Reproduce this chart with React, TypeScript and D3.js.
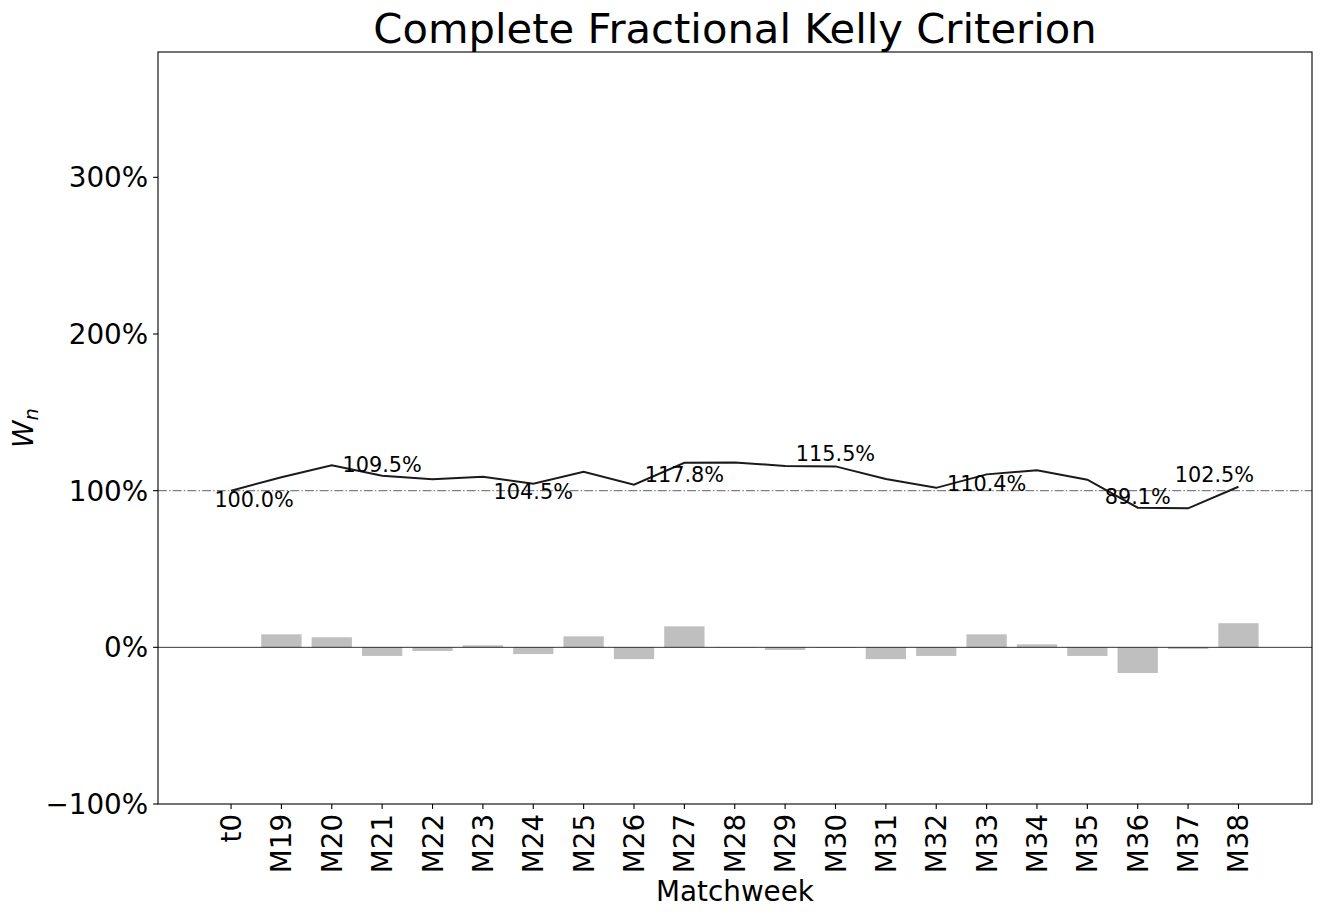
import React from "react";
import * as d3 from "d3";

const weeks = [
  "t0", "M19", "M20", "M21", "M22", "M23", "M24", "M25", "M26", "M27", "M28",
  "M29", "M30", "M31", "M32", "M33", "M34", "M35", "M36", "M37", "M38",
];

// wealth W_n in percent of starting bankroll
const wealth = [
  100.0, 108.6, 116.2, 109.5, 107.3, 108.9, 104.5, 112.0, 103.8, 117.8, 118.0,
  115.8, 115.5, 107.4, 101.8, 110.4, 113.0, 107.0, 89.1, 88.7, 102.5,
];

// weekly return in percent
const weeklyReturn = [
  0, 8.3, 6.4, -5.5, -2.3, 1.3, -4.3, 7.0, -7.5, 13.4, 0.2,
  -1.7, -0.3, -7.5, -5.5, 8.3, 1.9, -5.5, -16.4, -1.1, 15.4,
];

const yTicks = [-100, 0, 100, 200, 300];

// which points get a value label
const labelIdx = [0, 3, 6, 9, 12, 15, 18, 20];
// pixel nudges for the labels [dx, dy]
const labelNudge: [number, number][] = [
  [23, 16], [0, -4], [0, 15.7], [0, 19.5], [0, -5.4], [0, 16.3], [0, -3.6], [-24, -4.5],
];

const W = 1321;
const H = 917;
const margin = { top: 52, right: 9, bottom: 113, left: 158 };
const font = "DejaVu Sans, sans-serif";

const fmtTick = (d: number) => `${d < 0 ? "\u2212" : ""}${Math.abs(d)}%`;

export default function App() {
  const x = d3
    .scaleLinear()
    .domain([-1.45, weeks.length - 1 + 1.46])
    .range([margin.left, W - margin.right]);
  const y = d3
    .scaleLinear()
    .domain([-100, 380])
    .range([H - margin.bottom, margin.top]);
  const step = x(1) - x(0);
  const barW = step * 0.8;

  const line = d3
    .line<number>()
    .x((_, i) => x(i))
    .y((d) => y(d));

  const x0 = margin.left;
  const x1 = W - margin.right;
  const y0 = margin.top;
  const y1 = H - margin.bottom;

  return (
    <svg
      width={W}
      height={H}
      style={{ position: "absolute", left: 0, top: 0, background: "#fff" }}
      fontFamily={font}
    >
      <rect x={0} y={0} width={W} height={H} fill="#fff" />
      {/* bars */}
      {weeklyReturn.map((r, i) => (
        <rect
          key={weeks[i]}
          x={x(i) - barW / 2}
          y={Math.min(y(r), y(0))}
          width={barW}
          height={Math.abs(y(r) - y(0))}
          fill="#bfbfbf"
        />
      ))}
      <line x1={x0} x2={x1} y1={y(0)} y2={y(0)} stroke="#000" strokeWidth={0.8} />
      <line
        x1={x0}
        x2={x1}
        y1={y(100)}
        y2={y(100)}
        stroke="#808080"
        strokeWidth={1.2}
        strokeDasharray="8.9,2.2,1.4,2.2"
      />
      <path d={line(wealth) ?? ""} fill="none" stroke="#1a1a1a" strokeWidth={2} />
      {labelIdx.map((idx, k) => (
        <text
          key={idx}
          x={x(idx) + labelNudge[k][0]}
          y={y(wealth[idx]) + labelNudge[k][1]}
          textAnchor="middle"
          fontSize={20.8}
          fill="#000"
        >
          {`${wealth[idx].toFixed(1)}%`}
        </text>
      ))}
      {/* frame */}
      <rect x={x0} y={y0} width={x1 - x0} height={y1 - y0} fill="none" stroke="#000" strokeWidth={1.1} />
      {/* y axis */}
      {yTicks.map((t) => (
        <g key={t}>
          <line x1={x0 - 4.9} x2={x0} y1={y(t)} y2={y(t)} stroke="#000" strokeWidth={1.1} />
          <text
            x={x0 - 9.8}
            y={y(t)}
            dy="0.36em"
            textAnchor="end"
            fontSize={27.8}
            fill="#000"
          >
            {fmtTick(t)}
          </text>
        </g>
      ))}
      {/* x axis */}
      {weeks.map((w, i) => (
        <g key={w}>
          <line x1={x(i)} x2={x(i)} y1={y1} y2={y1 + 4.9} stroke="#000" strokeWidth={1.1} />
          <text
            transform={`translate(${x(i)},${y1 + 9.8}) rotate(-90)`}
            dy="0.36em"
            textAnchor="end"
            fontSize={27.8}
            fill="#000"
          >
            {w}
          </text>
        </g>
      ))}
      <text x={(x0 + x1) / 2} y={901} textAnchor="middle" fontSize={27.8} fill="#000">
        Matchweek
      </text>
      <text
        transform={`translate(33,428) rotate(-90)`}
        textAnchor="middle"
        fontSize={27.8}
        fill="#000"
      >
        <tspan fontStyle="italic">W</tspan>
        <tspan fontStyle="italic" fontSize={19.5} dy={5}>n</tspan>
      </text>
      <text x={(x0 + x1) / 2} y={43} textAnchor="middle" fontSize={41.7} fill="#000">
        Complete Fractional Kelly Criterion
      </text>
    </svg>
  );
}
